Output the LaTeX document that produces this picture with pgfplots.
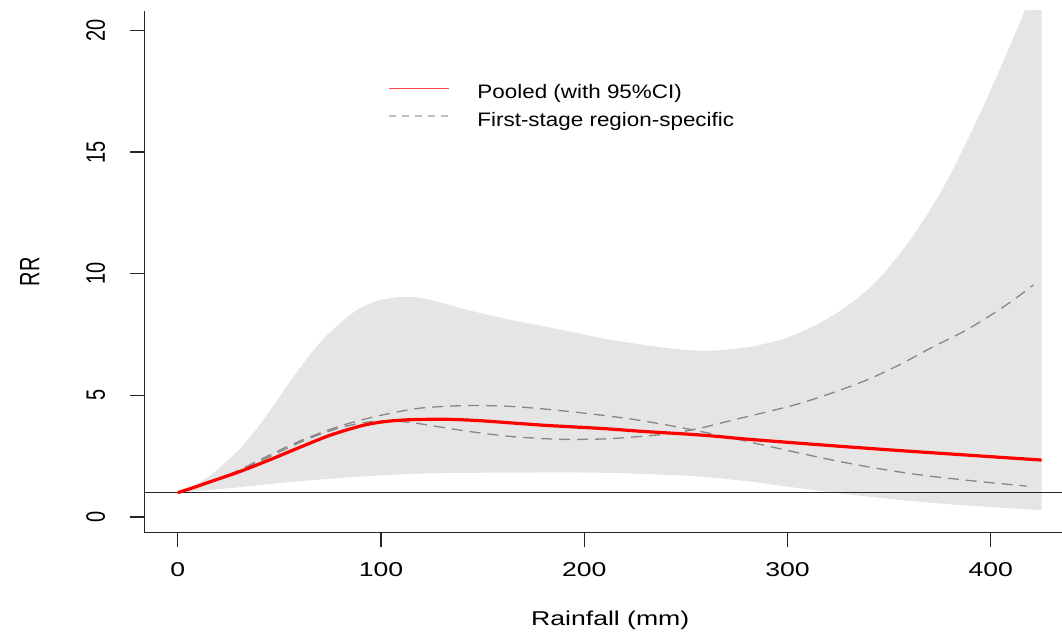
\documentclass[border=0pt]{standalone}
\usepackage{fontspec}
\setmainfont{Liberation Sans}
\usepackage{graphicx}
\usepackage{pgfplots}
\pgfplotsset{compat=1.18}
\usepgfplotslibrary{fillbetween}
\definecolor{band}{RGB}{229,229,229}
\definecolor{dgray}{RGB}{135,135,135}
\definecolor{lgray}{RGB}{190,190,190}
\definecolor{lred}{RGB}{255,70,70}
\begin{document}
\begin{tikzpicture}
\begin{axis}[
  at={(0pt,0pt)}, anchor=south west,
  scale only axis, width=465.85pt, height=260.94pt,
  xmin=-16.4, xmax=442, ymin=-0.65, ymax=20.8,
  axis x line*=bottom, axis y line*=left,
  axis line style={-, line width=0.65pt, black!85},
  tick style={line width=0.65pt, black!85},
  tick align=outside, major tick length=7pt,
  xtick={0,100,200,300,400}, ytick={0,5,10,15,20},
  minor tick num=0,
  /pgf/number format/assume math mode=true,
  xticklabel={\scalebox{1.33}[1]{\pgfmathprintnumber{\tick}}},
  yticklabel={\scalebox{1}[1.33]{\pgfmathprintnumber{\tick}}},
  xticklabel style={anchor=base, font=\fontsize{10}{12}\selectfont},
  yticklabel style={rotate=90, anchor=base, font=\fontsize{10}{12}\selectfont},
  xticklabel shift=14.95pt, yticklabel shift=12.7pt,
  every axis x label/.style={at={(axis description cs:0.5,0)}, yshift=-46.6pt, anchor=base, font=\fontsize{10}{12}\selectfont},
  every axis y label/.style={at={(axis description cs:0,0.5)}, xshift=-52.55pt, rotate=90, anchor=base, font=\fontsize{10}{12}\selectfont},
  xlabel={\scalebox{1.33}[1]{Rainfall (mm)}},
  ylabel={\scalebox{1}[1.4]{RR}},
  legend style={at={(axis description cs:0.2618,0.8626)}, anchor=north west,
    draw=none, fill=none, inner sep=0pt, outer sep=0pt, row sep=4pt, column sep=13.85pt,
    nodes={inner sep=0pt}, font=\fontsize{9.75}{11.7}\selectfont},
  legend cell align=left,
  legend image code/.code={\draw[#1] (0pt,1.85pt) -- (30pt,1.85pt);},
]
\addlegendimage{draw=lred, color=lred, line width=0.7pt}
\addlegendentry{\scalebox{1.15}[1]{Pooled (with 95\%CI)}\strut}
\addlegendimage{draw=lgray, color=lgray, line width=0.6pt, dash pattern=on 3.5pt off 3pt}
\addlegendentry{\scalebox{1.15}[1]{First-stage region-specific}\strut}

\addplot[name path=up, draw=none, smooth, forget plot] coordinates {
(0,1.00) (7,1.25) (15.1,1.66) (23,2.2) (31.5,2.89) (40,3.75) (47.9,4.67) (56,5.65)
(64.3,6.59) (72,7.35) (80.7,8.03) (89,8.55) (97.1,8.85) (105,9.0) (113.5,9.05)
(121,8.98) (128,8.85) (143,8.5) (160,8.17) (176,7.9) (193,7.62) (208,7.36)
(224,7.14) (240,6.95) (252,6.85) (264,6.84) (276,6.93) (288,7.1) (300,7.38)
(315,7.93) (330,8.71) (345,9.79) (362,11.58) (378,13.74) (395,16.63) (411,19.67)
(425,22.5)};
\addplot[name path=lo, draw=none, smooth, forget plot] coordinates {
(0,1.00) (15,1.10) (30,1.22) (45,1.35) (60,1.47) (85,1.63) (111,1.76) (135,1.81)
(160,1.82) (185,1.83) (208,1.82) (232,1.76) (257,1.66) (282,1.45) (306,1.18)
(330,0.93) (355,0.70) (380,0.52) (405,0.38) (425,0.28)};
\addplot[band, draw=none, forget plot] fill between[of=up and lo];

\addplot[black!85, line width=0.8pt, forget plot] coordinates {(-16.4,1) (442,1)};

\addplot[dgray, line width=0.65pt, dash pattern=on 5.5pt off 3.5pt, smooth, forget plot] coordinates {
(0,1.00) (10,1.26) (20,1.56) (30,1.92) (40,2.33) (50,2.74) (60,3.12) (70,3.45)
(80,3.74) (90,3.98) (100,4.18) (110,4.35) (120,4.48) (135,4.56) (150,4.58)
(165,4.54) (185,4.40) (208,4.19) (225,4.00) (240.6,3.78) (257,3.52) (273.4,3.23)
(290,2.92) (306.2,2.62) (322,2.34) (339,2.07) (355,1.85) (371.8,1.66) (395,1.45)
(417.7,1.27)};
\addplot[dgray, line width=0.65pt, dash pattern=on 5.5pt off 3.5pt, smooth, forget plot] coordinates {
(0,1.00) (10,1.25) (20,1.54) (30,1.88) (40,2.27) (50,2.67) (60,3.06) (70,3.40)
(80,3.67) (90,3.86) (100,3.95) (110,3.92) (120,3.82) (135,3.62) (150,3.44)
(165,3.30) (185,3.20) (200,3.19) (215,3.23) (240.6,3.41) (257,3.65) (273.4,3.99)
(290,4.32) (306.2,4.67) (322,5.10) (339,5.63) (355,6.25) (371.8,7.00) (385,7.55)
(396.4,8.10) (410,8.85) (421,9.54)};

\addplot[red, line width=1.6pt, smooth, forget plot] coordinates {
(0,1.00) (7.5,1.2) (15,1.42) (30,1.85) (45,2.34) (60,2.86) (75,3.36) (90,3.74)
(100,3.90) (110,3.98) (120,4.01) (135,4.01) (150,3.95)
(165,3.86) (180,3.77) (195,3.70) (210,3.63) (230,3.51) (257,3.37) (280,3.20)
(306,3.03) (330,2.88) (355,2.73) (380,2.59) (405,2.45) (425,2.34)};
\end{axis}
\pgfresetboundingbox
\path[use as bounding box] (-72.2pt,-50.6pt) rectangle (458.8pt,266.39pt);
\end{tikzpicture}
\end{document}
